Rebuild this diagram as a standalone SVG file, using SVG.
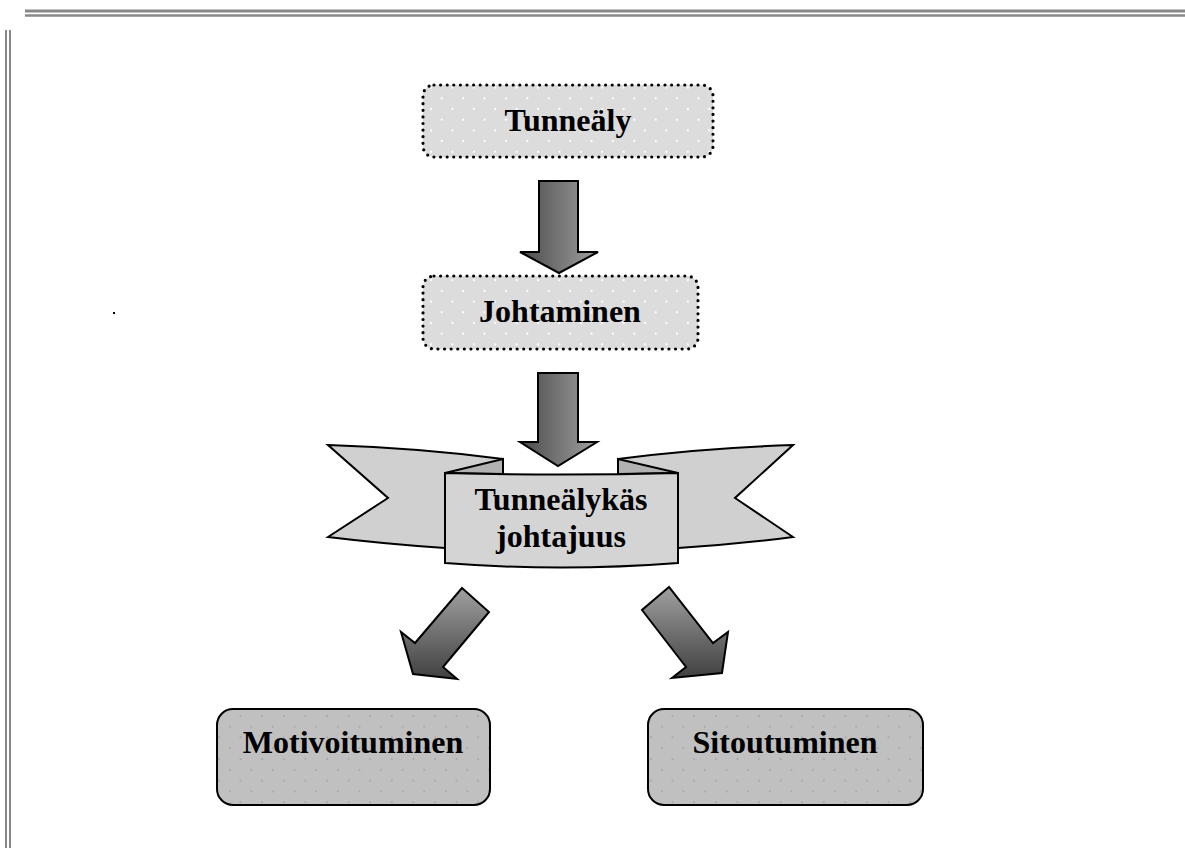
<svg xmlns="http://www.w3.org/2000/svg" width="1185" height="848" viewBox="0 0 1185 848">
<defs>
<style>
.lbl{font-family:"Liberation Serif","Times New Roman",serif;font-weight:bold;font-size:32px;fill:#000;text-anchor:middle}
.dotbox{stroke:#000;stroke-width:3.2;stroke-dasharray:0 6.6;stroke-linecap:round;fill:url(#lightDots)}
.solidbox{stroke:#000;stroke-width:2;fill:url(#grayDots)}
.arrow{stroke:#000;stroke-width:2;stroke-linejoin:miter}
.rib{stroke:#000;stroke-width:2;stroke-linejoin:miter}
.frame{stroke:#888;fill:none}
</style>
<pattern id="lightDots" patternUnits="userSpaceOnUse" width="21.4" height="21.4" x="3" y="2">
<rect width="21.4" height="21.4" fill="#dcdcdc"/>
<circle cx="0" cy="0" r="1.1" fill="#fff"/>
<circle cx="21.4" cy="0" r="1.1" fill="#fff"/>
<circle cx="0" cy="21.4" r="1.1" fill="#fff"/>
<circle cx="21.4" cy="21.4" r="1.1" fill="#fff"/>
<circle cx="10.7" cy="10.7" r="1.1" fill="#fff"/>
</pattern>
<pattern id="grayDots" patternUnits="userSpaceOnUse" width="21.6" height="21.6" x="3" y="3">
<rect width="21.6" height="21.6" fill="#c0c0c0"/>
<circle cx="0" cy="0" r="1" fill="#a6a6a6"/>
<circle cx="21.6" cy="0" r="1" fill="#a6a6a6"/>
<circle cx="0" cy="21.6" r="1" fill="#a6a6a6"/>
<circle cx="21.6" cy="21.6" r="1" fill="#a6a6a6"/>
<circle cx="10.8" cy="10.8" r="1" fill="#a6a6a6"/>
</pattern>
<linearGradient id="gradH" x1="0" y1="0" x2="1" y2="0">
<stop offset="0" stop-color="#4a4a4a"/>
<stop offset="1" stop-color="#a0a0a0"/>
</linearGradient>
<linearGradient id="gradV" x1="0" y1="0" x2="0" y2="1">
<stop offset="0" stop-color="#a0a0a0"/>
<stop offset="1" stop-color="#404040"/>
</linearGradient>
</defs>

<g id="frame">
<line class="frame" x1="25" y1="11" x2="1185" y2="11" stroke-width="3"/>
<line class="frame" x1="25" y1="15.5" x2="1185" y2="15.5" stroke-width="2.5"/>
<line class="frame" x1="6" y1="30" x2="6" y2="848" stroke-width="2"/>
<line class="frame" x1="10" y1="30" x2="10" y2="848" stroke-width="2"/>
<rect x="113" y="312" width="2" height="2" fill="#000"/>
</g>

<g id="connectors">
<path id="arrow1" class="arrow" fill="url(#gradH)" d="M539,181 L578,181 L578,252 L598,252 L559,273 L520,252 L539,252 Z"/>
<path id="arrow2" class="arrow" fill="url(#gradH)" d="M538,373 L578,373 L578,442 L597,442 L558,466 L520,442 L538,442 Z"/>
<path id="arrow3" class="arrow" fill="url(#gradV)" d="M462,588 L489,612 L443,667 L457,679 L413,674 L401,632 L415,643 Z"/>
<path id="arrow4" class="arrow" fill="url(#gradV)" d="M669,587 L642,610 L686,667 L672,678 L722,673 L728,632 L713,643 Z"/>
</g>

<g id="node-tunnealy">
<rect class="dotbox" x="423" y="85" width="290" height="72" rx="11" ry="11"/>
<text class="lbl" x="568" y="131">Tunneäly</text>
</g>

<g id="node-johtaminen">
<rect class="dotbox" x="423" y="276" width="275" height="73" rx="11" ry="11"/>
<text class="lbl" x="560" y="322">Johtaminen</text>
</g>

<g id="node-ribbon">
<path class="rib" fill="#d0d0d0" d="M328,445 Q420,448 503,459 L503,548 L445,548 Q385,544 328,537 L388,498 Z"/>
<path class="rib" fill="#d0d0d0" d="M793,445 Q700,448 618,459 L618,548 L678,548 Q738,544 793,537 L735,498 Z"/>
<path class="rib" fill="#b2b2b2" d="M445,473 L503,459 L503,474 Z"/>
<path class="rib" fill="#b2b2b2" d="M678,473 L618,459 L618,474 Z"/>
<path class="rib" fill="#d4d4d4" d="M445,473 Q561,476 678,473 L678,563 Q561,572 445,563 Z"/>
<text class="lbl" x="561" y="510">Tunneälykäs</text>
<text class="lbl" x="561" y="547">johtajuus</text>
</g>

<g id="node-motivoituminen">
<rect class="solidbox" x="217" y="709" width="273" height="96" rx="16" ry="16"/>
<text class="lbl" x="353" y="753">Motivoituminen</text>
</g>

<g id="node-sitoutuminen">
<rect class="solidbox" x="648" y="709" width="275" height="96" rx="16" ry="16"/>
<text class="lbl" x="785" y="753">Sitoutuminen</text>
</g>
</svg>
